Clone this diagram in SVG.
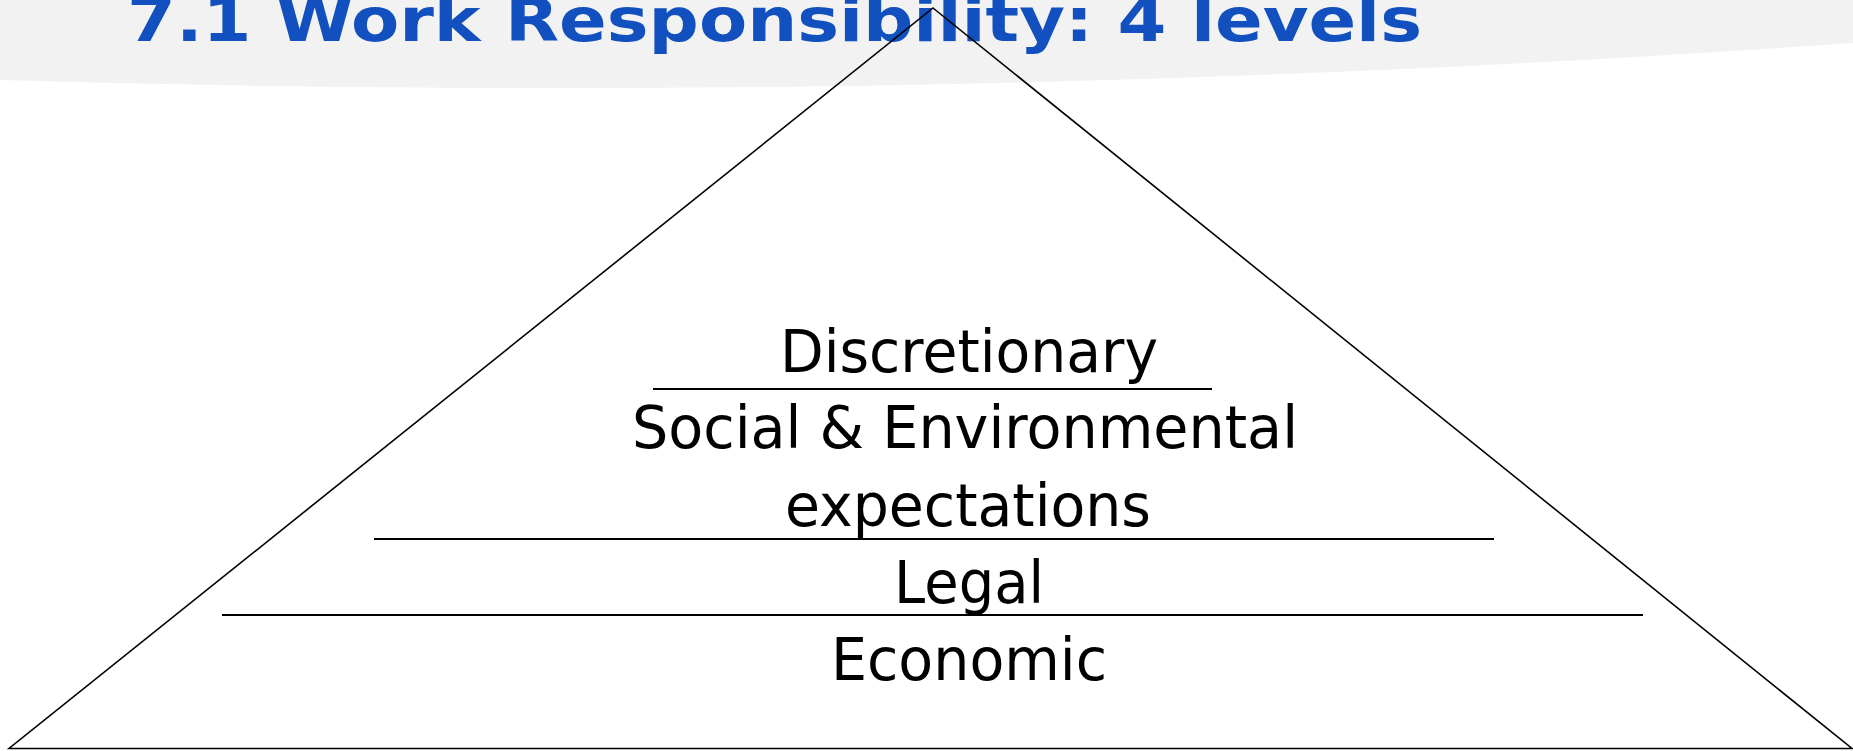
<svg xmlns="http://www.w3.org/2000/svg" width="1853" height="751" viewBox="0 0 1853 751">
  <style>
    .title { font-family: "DejaVu Sans", "Liberation Sans", sans-serif; font-weight: bold; font-size: 60px; fill: #1150BE; }
    .label { font-family: "DejaVu Sans", "Liberation Sans", sans-serif; font-size: 59px; fill: #000; text-anchor: middle; }
    .outline { fill: none; stroke: #000; stroke-width: 1.6; stroke-linejoin: miter; }
    .divider { stroke: #000; stroke-width: 1.8; }
  </style>

  <!-- header band -->
  <rect x="0" y="0" width="1853" height="751" fill="#FFFFFF"/>
  <path d="M0,0 H1853 V43 C1240,86 620,98 0,80 Z" fill="#F2F2F2"/>
  <text class="title" x="127" y="41" textLength="1295" lengthAdjust="spacingAndGlyphs">7.1 Work Responsibility: 4 levels</text>

  <!-- pyramid outline and level dividers -->
  <g id="pyramid">
    <polygon class="outline" points="933,8 1852,748.5 9,748.5"/>
    <line class="divider" x1="653" y1="389" x2="1212" y2="389"/>
    <line class="divider" x1="374" y1="539" x2="1494" y2="539"/>
    <line class="divider" x1="222" y1="615" x2="1643" y2="615"/>
  </g>

  <g id="connectors"></g>

  <g id="level-discretionary">
    <text class="label" x="969" y="372" textLength="378" lengthAdjust="spacingAndGlyphs">Discretionary</text>
  </g>
  <g id="level-social">
    <text class="label" x="965" y="448" textLength="666" lengthAdjust="spacingAndGlyphs">Social &amp; Environmental</text>
    <text class="label" x="968" y="526" textLength="366" lengthAdjust="spacingAndGlyphs">expectations</text>
  </g>
  <g id="level-legal">
    <text class="label" x="969" y="603" textLength="150" lengthAdjust="spacingAndGlyphs">Legal</text>
  </g>
  <g id="level-economic">
    <text class="label" x="969" y="680" textLength="276" lengthAdjust="spacingAndGlyphs">Economic</text>
  </g>
</svg>
